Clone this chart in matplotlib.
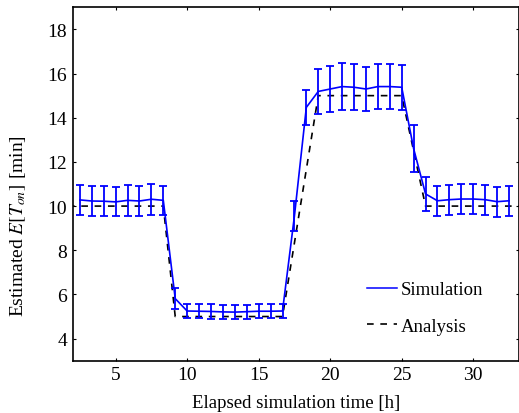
import matplotlib
matplotlib.use("Agg")
import matplotlib.pyplot as plt
from matplotlib.lines import Line2D

# Simulation samples (hours) and estimated E[T_on] (min) with error half-widths
sim_t = [2.5, 3.333, 4.167, 5.0, 5.833, 6.667, 7.5, 8.333,
         9.167, 10.0, 10.833, 11.667, 12.5, 13.333, 14.167, 15.0, 15.833, 16.667,
         17.5, 18.333, 19.167, 20.0, 20.833, 21.667, 22.5, 23.333, 24.167, 25.0,
         25.833, 26.667, 27.5, 28.333, 29.167, 30.0, 30.833, 31.667, 32.5]
sim_v = [10.28, 10.23, 10.22, 10.19, 10.26, 10.23, 10.31, 10.26,
         5.81, 5.25, 5.24, 5.23, 5.21, 5.20, 5.22, 5.24, 5.24, 5.25,
         9.55, 14.47, 15.19, 15.30, 15.41, 15.38, 15.30, 15.41, 15.41, 15.38,
         12.60, 10.55, 10.24, 10.29, 10.32, 10.32, 10.29, 10.20, 10.24]
sim_err = [0.68, 0.67, 0.67, 0.66, 0.69, 0.67, 0.70, 0.67,
           0.47, 0.32, 0.32, 0.32, 0.32, 0.32, 0.32, 0.32, 0.32, 0.32,
           0.68, 0.78, 1.02, 1.04, 1.06, 1.03, 1.01, 1.00, 1.03, 1.02,
           1.05, 0.75, 0.68, 0.68, 0.68, 0.68, 0.68, 0.68, 0.68]

# Analysis curve breakpoints
ana_t = [1.667, 8.333, 9.167, 16.667, 19.167, 25.0, 26.667, 33.333]
ana_v = [10, 10, 5, 5, 15, 15, 10, 10]

x_ticks = [5, 10, 15, 20, 25, 30]
y_ticks = [4, 6, 8, 10, 12, 14, 16, 18]

plt.rcParams['font.family'] = ['Liberation Serif', 'DejaVu Serif']
plt.rcParams['mathtext.fontset'] = 'stix'
plt.rcParams['font.size'] = 13.5

fig = plt.figure(figsize=(5.19, 4.14), dpi=100)
ax = fig.add_axes([0.1401, 0.1263, 0.8599, 0.8537])

ax.errorbar(sim_t, sim_v, yerr=sim_err, color='#0000ff', lw=1.2,
            elinewidth=1.3, capsize=3, capthick=1.3, zorder=3)
ax.plot(ana_t, ana_v, color='black', lw=1.2, ls=(0, (4, 4)), zorder=2)

ax.set_xlim(2, 33.2)
ax.set_ylim(3, 19)
ax.set_xticks(x_ticks)
ax.set_yticks(y_ticks)
ax.tick_params(direction='in', top=True, right=True, length=2.5, width=0.8,
               labelsize=14, pad=4)
for s in ax.spines.values():
    s.set_linewidth(1.2)

ax.set_xlabel('Elapsed simulation time [h]', fontsize=13.5, labelpad=8)
ax.set_ylabel(r'Estimated $E[T_{on}]$ [min]', fontsize=14)
ax.yaxis.set_label_coords(-0.100, 0.385)

h_sim = Line2D([], [], color='#0000ff', lw=1.1)
h_ana = Line2D([], [], color='black', lw=1.2, ls=(0, (4, 4)))
ax.legend([h_sim, h_ana], ['Simulation', 'Analysis'], frameon=False,
          loc='lower left', bbox_to_anchor=(0.621, 0.025), handlelength=1.6,
          labelspacing=1.05, handletextpad=0.2, fontsize=13.5)

fig.savefig('out.png', dpi=100)
